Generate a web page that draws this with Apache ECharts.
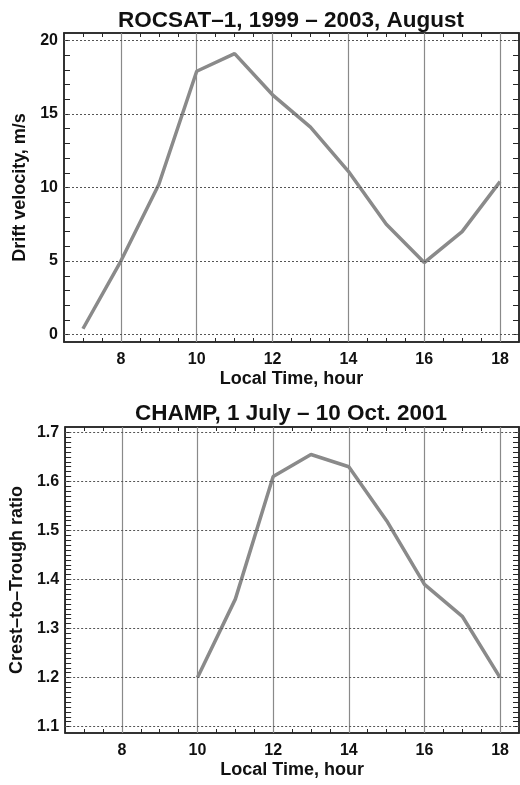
<!DOCTYPE html>
<html>
<head>
<meta charset="utf-8">
<script src="https://cdn.jsdelivr.net/npm/echarts@6/dist/echarts.min.js"></script>
<style>html,body{margin:0;padding:0;background:#fff;}#c{width:520px;height:785px;}</style>
</head>
<body>
<div id="c"></div>
<script>
// ---- data ----
const hoursTop = [7, 8, 9, 10, 11, 12, 13, 14, 15, 16, 17, 18];
const driftVelocity = [0.4, 5.0, 10.2, 17.9, 19.1, 16.3, 14.1, 11.1, 7.5, 4.9, 7.0, 10.4];
const hoursBottom = [10, 11, 12, 13, 14, 15, 16, 17, 18];
const crestTroughRatio = [1.20, 1.36, 1.61, 1.655, 1.63, 1.52, 1.39, 1.325, 1.20];

const xTickLabels = [8, 10, 12, 14, 16, 18];
const xMinorTicks = [7, 7.5, 8, 8.5, 9, 9.5, 10, 10.5, 11, 11.5, 12, 12.5, 13, 13.5, 14, 14.5, 15, 15.5, 16, 16.5, 17, 17.5, 18];
const yTopTickLabels = [0, 5, 10, 15, 20];
const yTopMinorTicks = [0,1,2,3,4,5,6,7,8,9,10,11,12,13,14,15,16,17,18,19,20];
const yBotTickLabels = [1.1, 1.2, 1.3, 1.4, 1.5, 1.6, 1.7];
const yBotMinorTicks = [];
for (let i = 110; i <= 170; i++) yBotMinorTicks.push(i / 100);

const titles = ['ROCSAT\u20131, 1999 \u2013 2003, August', 'CHAMP, 1 July \u2013 10 Oct. 2001'];
const xName = 'Local Time, hour';
const yNames = ['Drift velocity, m/s', 'Crest\u2013to\u2013Trough ratio'];

// ---- styling ----
const FONT = 'Liberation Sans';
const frameColor = '#262626';
const lineColor = '#8a8a8a';

function xAxisPair(gi) {
  const base = {
    gridIndex: gi, type: 'value', min: 6.5, max: 18.5,
    axisLine: { show: true, onZero: false, lineStyle: { color: frameColor, width: 1.5 } },
    axisTick: { show: true, inside: true, length: 4, customValues: xMinorTicks, lineStyle: { color: frameColor, width: 1 } },
    splitLine: { show: false }
  };
  return [
    Object.assign({}, base, {
      position: 'bottom',
      axisLabel: { show: true, customValues: xTickLabels, margin: 10, fontFamily: FONT, fontWeight: 'bold', fontSize: 16, color: '#111' },
      name: xName, nameLocation: 'middle', nameGap: 28,
      nameTextStyle: { fontFamily: FONT, fontWeight: 'bold', fontSize: 18, color: '#111' }
    }),
    Object.assign({}, base, { position: 'top', axisLabel: { show: false } })
  ];
}

function yAxisPair(gi, min, max, labels, minor, name, fmt) {
  const base = {
    gridIndex: gi, type: 'value', min: min, max: max,
    axisLine: { show: true, onZero: false, lineStyle: { color: frameColor, width: 1.5 } },
    axisTick: { show: true, inside: true, length: 6, customValues: minor, lineStyle: { color: frameColor, width: 1 } },
    splitLine: { show: false }
  };
  return [
    Object.assign({}, base, {
      position: 'left',
      axisLabel: { show: true, customValues: labels, margin: 6, fontFamily: FONT, fontWeight: 'bold', fontSize: 16, color: '#111', formatter: fmt },
      name: name, nameLocation: 'middle', nameGap: 35,
      nameTextStyle: { fontFamily: FONT, fontWeight: 'bold', fontSize: 18, color: '#111' }
    }),
    Object.assign({}, base, { position: 'right', axisLabel: { show: false } })
  ];
}

function gridSeries(xi, yi, yVals) {
  return {
    type: 'line', xAxisIndex: xi, yAxisIndex: yi, data: [], z: 1, silent: true,
    markLine: {
      silent: true, symbol: 'none', label: { show: false }, animation: false,
      data: xTickLabels.map(v => ({ xAxis: v, lineStyle: { color: '#8a8a8a', width: 1.2, type: 'solid' } }))
        .concat(yVals.map(v => ({ yAxis: v, lineStyle: { color: '#555', width: 1, type: [2, 2] } })))
    }
  };
}

const xs = xAxisPair(0).concat(xAxisPair(1));
xs[2].gridIndex = 1; xs[3].gridIndex = 1;

const ys = yAxisPair(0, -0.5, 20.5, yTopTickLabels, yTopMinorTicks, yNames[0], v => String(v))
  .concat(yAxisPair(1, 1.087, 1.711, yBotTickLabels, yBotMinorTicks, yNames[1], v => v.toFixed(1)));

const option = {
  animation: false,
  backgroundColor: '#fff',
  title: [
    { text: titles[0], left: 291, top: 9, textAlign: 'center', padding: 0,
      textStyle: { fontFamily: FONT, fontWeight: 'bold', fontSize: 22.5, color: '#111' } },
    { text: titles[1], left: 291, top: 402, textAlign: 'center', padding: 0,
      textStyle: { fontFamily: FONT, fontWeight: 'bold', fontSize: 22.5, color: '#111' } }
  ],
  grid: [
    { left: 64, right: 1, top: 33, height: 309, show: true, borderColor: frameColor, borderWidth: 1.5, backgroundColor: 'transparent' },
    { left: 64, right: 1, top: 427, height: 306, show: true, borderColor: frameColor, borderWidth: 1.5, backgroundColor: 'transparent' }
  ],
  xAxis: xs,
  yAxis: ys,
  series: [
    gridSeries(0, 0, yTopTickLabels),
    gridSeries(2, 2, yBotTickLabels),
    { type: 'line', xAxisIndex: 0, yAxisIndex: 0, z: 3, showSymbol: false,
      data: hoursTop.map((h, i) => [h, driftVelocity[i]]),
      lineStyle: { color: lineColor, width: 3.5 } },
    { type: 'line', xAxisIndex: 2, yAxisIndex: 2, z: 3, showSymbol: false,
      data: hoursBottom.map((h, i) => [h, crestTroughRatio[i]]),
      lineStyle: { color: lineColor, width: 3.5 } }
  ]
};

const chart = echarts.init(document.getElementById('c'), null, { renderer: 'canvas' });
chart.setOption(option);
</script>
</body>
</html>
